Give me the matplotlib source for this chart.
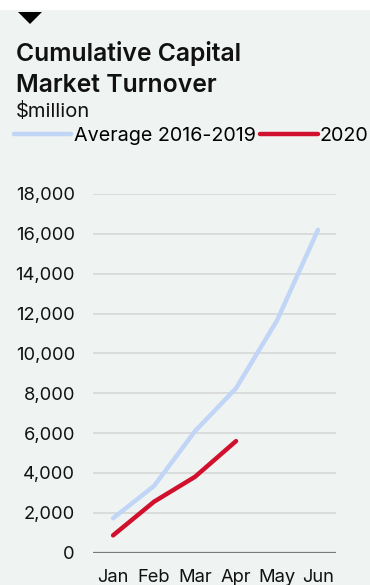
import matplotlib
matplotlib.use('Agg')
import matplotlib.pyplot as plt
from matplotlib.patches import Polygon, Rectangle

plt.rcParams['font.family'] = ['Inter', 'DejaVu Sans']

months = ['Jan', 'Feb', 'Mar', 'Apr', 'May', 'Jun']
avg_2016_2019 = [1730, 3350, 6100, 8250, 11650, 16200]
turnover_2020 = [870, 2560, 3810, 5600]
yticks = list(range(0, 18001, 2000))

bg = '#eff3f2'
blue = '#c1d5f6'
red = '#d0102c'

fig = plt.figure(figsize=(3.7, 5.85), dpi=100, facecolor=bg)
# white strip at top
fig.patches.append(Rectangle((0, 1 - 10 / 585), 1, 10 / 585, transform=fig.transFigure,
                             facecolor='white', edgecolor='none', zorder=0))
# small triangle marker
fig.patches.append(Polygon([(18 / 370, 1 - 12 / 585), (42 / 370, 1 - 12 / 585), (30 / 370, 1 - 24 / 585)],
                           closed=True, transform=fig.transFigure, facecolor='black', edgecolor='none'))

fig.text(16 / 370, 1 - 61 / 585, 'Cumulative Capital', fontsize=17.8,
         fontweight='semibold', va='baseline', ha='left', color='#111111')
fig.text(16 / 370, 1 - 92.5 / 585, 'Market Turnover', fontsize=17.8,
         fontweight='semibold', va='baseline', ha='left', color='#111111')
fig.text(16 / 370, 1 - 117 / 585, '$million', fontsize=14.5, va='baseline', ha='left', color='#111111')

ax = fig.add_axes([93 / 370, 1 - 552.7 / 585, 243 / 370, (552.7 - 194) / 585])
ax.set_facecolor(bg)
x = list(range(len(months)))
ax.plot(x, avg_2016_2019, color=blue, lw=3.2, solid_capstyle='round', label='Average 2016-2019', zorder=3)
ax.plot(x[:len(turnover_2020)], turnover_2020, color=red, lw=3.2, solid_capstyle='round', label='2020', zorder=4)

ax.set_xlim(-0.49, 5.44)
ax.set_ylim(0, 18000)
ax.set_yticks(yticks)
ax.set_yticklabels([f'{v:,}' for v in yticks])
ax.set_xticks(x)
ax.set_xticklabels(months)
ax.grid(axis='y', color='#d8d9d9', lw=1.3)
ax.axhline(0, color='#7a7a7a', lw=1.6, zorder=2)
for s in ax.spines.values():
    s.set_visible(False)
ax.tick_params(length=0, labelsize=13.2, colors='#111111')
ax.tick_params(axis='y', pad=13)
ax.tick_params(axis='x', pad=12)
for t in ax.get_yticklabels():
    t.set_clip_on(False)

fig.legend(loc='upper left', bbox_to_anchor=(14 / 370, 1 - 127 / 585), ncol=2, frameon=False,
           fontsize=14.2, handlelength=2.9, handletextpad=0.12, columnspacing=0.25,
           borderaxespad=0, borderpad=0)

fig.savefig('out.png', dpi=100, facecolor=bg)
